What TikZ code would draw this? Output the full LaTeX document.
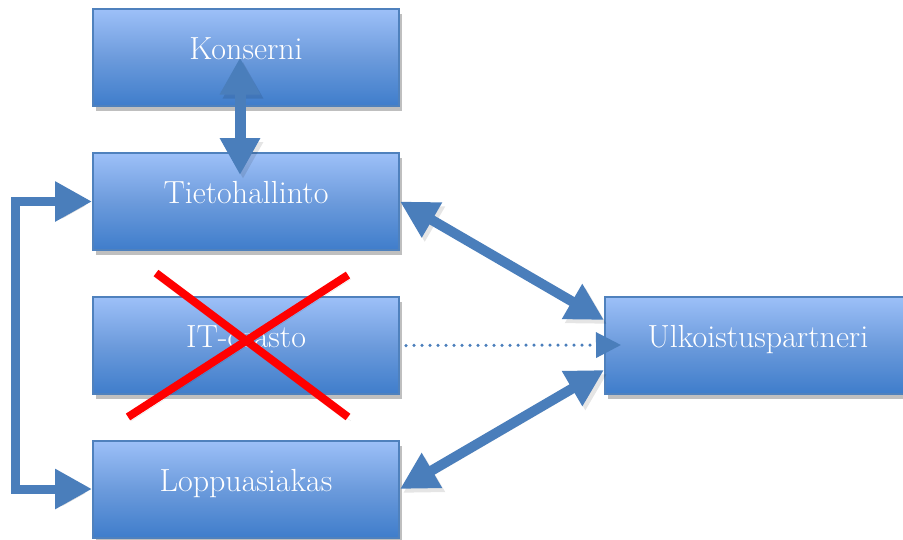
\documentclass[tikz,border=0pt]{standalone}
\usetikzlibrary{arrows.meta,shadows}
\definecolor{boxtop}{HTML}{9DC0F8}
\definecolor{boxmid}{HTML}{6C9BDC}
\definecolor{boxbot}{HTML}{3F7DCB}
\definecolor{boxedge}{HTML}{4F81BD}
\definecolor{flow}{HTML}{4A7EBB}
\begin{document}
\begin{tikzpicture}[x=1pt,y=-1pt,
  unit/.style={rectangle, minimum width=306pt, minimum height=97pt,
    draw=boxedge, line width=2pt,
    top color=boxtop, bottom color=boxbot, middle color=boxmid,
    text=white, font=\fontsize{32}{38}\selectfont,
    text height=22pt, text depth=18pt,
    drop shadow={shadow xshift=3pt, shadow yshift=-5pt, fill=black, opacity=0.25}},
  softshadow/.style={preaction={draw=black, opacity=0.1,
    transform canvas={shift={(3pt,-4pt)}}}},
  flowarrow/.style={draw=flow, line width=#1, line join=miter,
    softshadow,
    {Triangle[length=37pt,width=38pt]}-{Triangle[length=37pt,width=38pt]}},
  xline/.style={draw=red, line width=8pt, softshadow}
]
\useasboundingbox (0,0) rectangle (903,539);

% organisation units
\node[unit] (kon)   at (246,57.5)  {Konserni};
\node[unit] (tieto) at (246,201.5) {Tietohallinto};
\node[unit] (it)    at (246,345.5) {IT-osasto};
\node[unit] (loppu) at (246,489)   {Loppuasiakas};
\node[unit] (ulk)   at (758,345)   {Ulkoistuspartneri};

% connections
\draw[flowarrow=11pt] ([xshift=-6pt]kon.center) -- ([xshift=-6pt,yshift=-23pt]tieto.north);
\draw[flowarrow=9pt] (tieto.west) -- ++(-77,0) |- (loppu.west);
\draw[flowarrow=10pt] (tieto.east) -- ([yshift=25pt]ulk.west);
\draw[flowarrow=10pt] ([yshift=-25pt]ulk.west) -- (loppu.east);
\draw[draw=flow, line width=3.5pt, line cap=round, dash pattern=on 0pt off 8pt,
  -{Triangle[length=25pt,width=25pt]}] ([xshift=6pt]it.east) -- ([xshift=17pt]ulk.west);

% the IT department is crossed out
\draw[xline] (156,273) -- (348,417);
\draw[xline] (128,417) -- (348,275);
\end{tikzpicture}
\end{document}
